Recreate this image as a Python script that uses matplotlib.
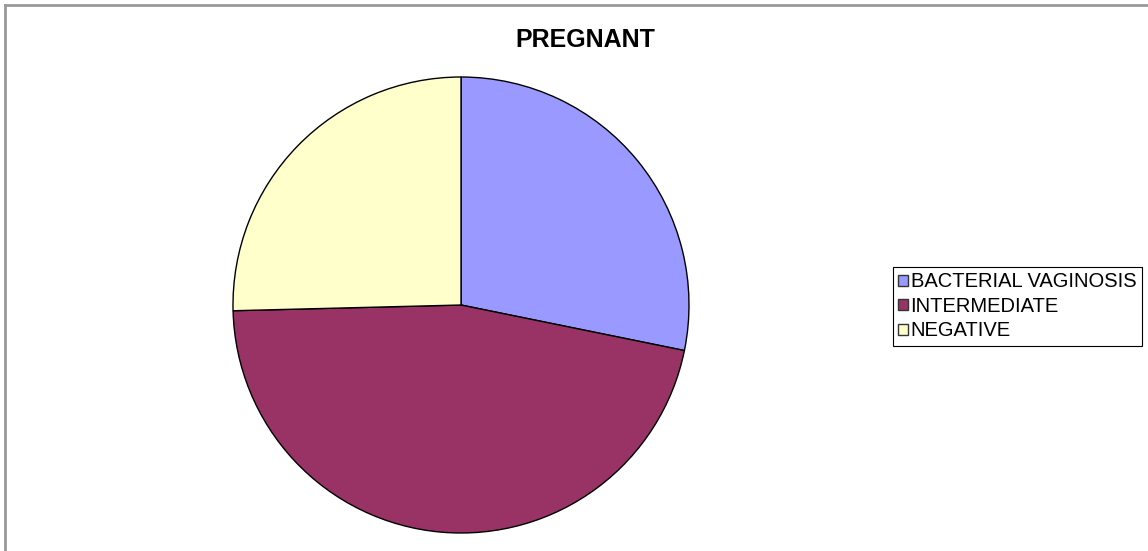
import matplotlib.pyplot as plt
from matplotlib.lines import Line2D

labels = ['BACTERIAL VAGINOSIS', 'INTERMEDIATE', 'NEGATIVE']
values = [28.2, 46.4, 25.4]
colors = ['#9999FF', '#993366', '#FFFFCC']

plt.rcParams['font.family'] = ['Liberation Sans', 'DejaVu Sans']

W, H = 1148, 551
fig = plt.figure(figsize=(W / 100, H / 100), dpi=100)

# pie area
cx, cy, r = 461, 305, 228
ax = fig.add_axes([(cx - r) / W, (H - cy - r) / H, 2 * r / W, 2 * r / H])
wedges, _ = ax.pie(values, colors=colors, startangle=90, counterclock=False,
                   wedgeprops=dict(edgecolor='black', linewidth=1))
ax.set_xlim(-1, 1)
ax.set_ylim(-1, 1)
ax.set_aspect('equal')
ax.axis('off')

fig.text(585 / W, 1 - 40 / H, 'PREGNANT', ha='center', va='center',
         fontsize=18, fontweight='bold')

leg = fig.legend(wedges, labels, loc='upper left',
                 bbox_to_anchor=(893 / W, 1 - 267 / H), fontsize=14.5,
                 handlelength=0.45, handleheight=0.45, handletextpad=0.15,
                 labelspacing=0.27, borderpad=0.27, borderaxespad=0,
                 fancybox=False, framealpha=1)
leg.get_frame().set_edgecolor('black')
leg.get_frame().set_linewidth(0.8)
for h in leg.legend_handles:
    h.set_edgecolor('#333333')

# outer frame (top and left gray lines)
fig.add_artist(Line2D([5 / W, 5 / W], [0, 1 - 5 / H], transform=fig.transFigure,
                      color='#999999', linewidth=2))
fig.add_artist(Line2D([5 / W, 1], [1 - 5 / H, 1 - 5 / H], transform=fig.transFigure,
                      color='#999999', linewidth=2))

fig.savefig('out.png', dpi=100)
